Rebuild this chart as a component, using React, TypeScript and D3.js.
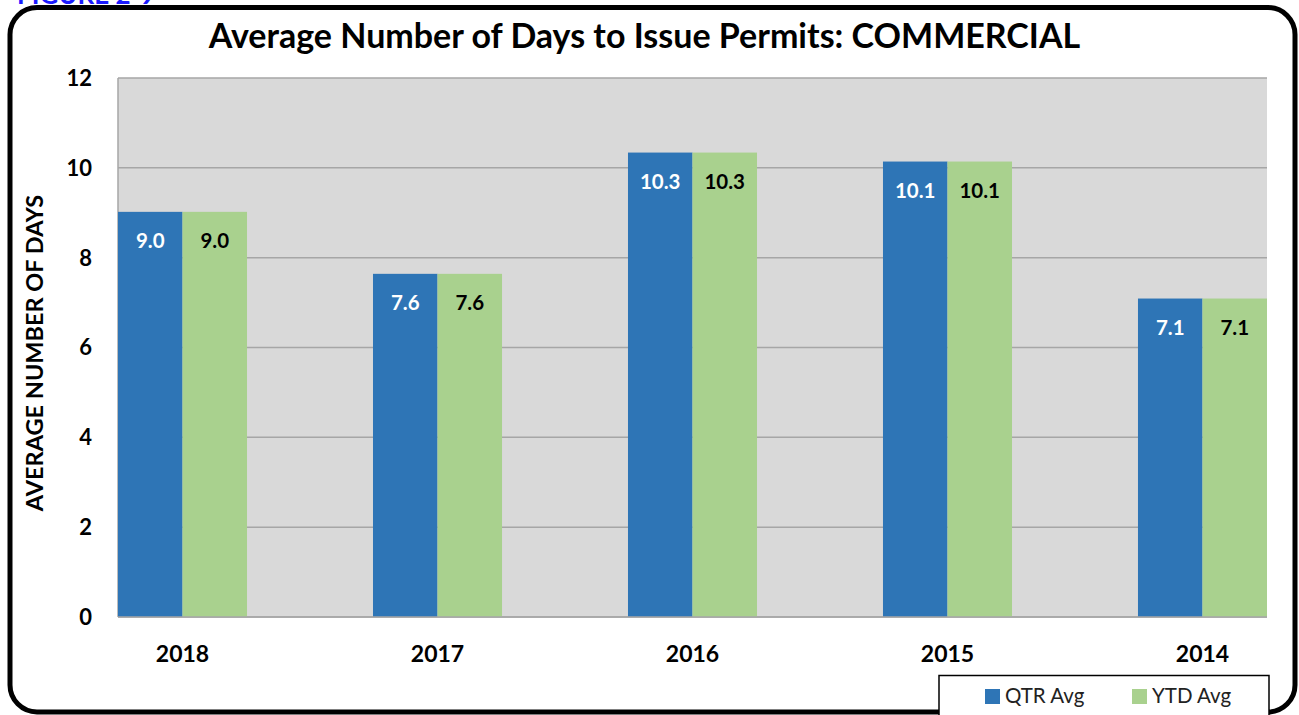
import React from "react"
import * as d3 from "d3";

// chart data
const years = ["2018", "2017", "2016", "2015", "2014"];
const qtrAvg = [9.02, 7.64, 10.34, 10.14, 7.09];
const ytdAvg = [9.02, 7.64, 10.34, 10.14, 7.09];
const seriesNames = ["QTR Avg", "YTD Avg"];
const yTicks = [0, 2, 4, 6, 8, 10, 12];

const colors = ["#2E75B6", "#A9D18E"];
const labelColors = ["#ffffff", "#000000"];

const W = 1299, H = 715;
var plot = {left: 118, right: 1267, top: 78, bottom: 617};
const FONT = "Lato, 'Noto Sans', sans-serif";

export default class App extends React.Component {

    private _svg: SVGSVGElement | null = null;

    componentDidMount() {
        this.redraw();
    }

    render() {
        return (
            <svg
                ref={node => { this._svg = node; }}
                width={W}
                height={H}
                style={{position: "absolute", left: 0, top: 0, background: "#fff"}}
            ></svg>
        );
    }

    redraw() {
        if (this._svg == null) return;
        var svg = d3.select(this._svg);
        svg.selectAll("*").remove();
        svg.style("font-family", FONT);

        // figure caption, mostly cut off at top (as in the source)
        svg.append("text")
            .attr("x", 17).attr("y", 4)
            .attr("font-size", 26).attr("font-weight", "bold")
            .attr("fill", "#1a1aff")
            .text("FIGURE 2-9");

        // rounded frame
        svg.append("rect")
            .attr("x", 10).attr("y", 7.5)
            .attr("width", 1285).attr("height", 704.5)
            .attr("rx", 27).attr("ry", 27)
            .attr("fill", "none")
            .attr("stroke", "#000")
            .attr("stroke-width", 5);

        // title
        svg.append("text")
            .attr("x", 644.5).attr("y", 48)
            .attr("text-anchor", "middle")
            .attr("font-size", 34).attr("font-weight", "bold")
            .text("Average Number of Days to Issue Permits: COMMERCIAL");

        var y = d3.scaleLinear()
            .domain([0, 12])
            .range([plot.bottom, plot.top]);

        var x0 = d3.scaleBand()
            .domain(years)
            .range([plot.left, plot.right])
            .paddingInner(0.494)
            .paddingOuter(0);

        var x1 = d3.scaleBand()
            .domain(seriesNames)
            .range([0, x0.bandwidth()]);

        // plot background
        svg.append("rect")
            .attr("x", plot.left).attr("y", plot.top)
            .attr("width", plot.right - plot.left)
            .attr("height", plot.bottom - plot.top)
            .attr("fill", "#D9D9D9");

        // gridlines
        svg.append("g")
            .selectAll("line")
            .data(yTicks)
            .enter()
            .append("line")
            .attr("x1", plot.left).attr("x2", plot.right)
            .attr("y1", d => y(d)).attr("y2", d => y(d))
            .attr("stroke", "#A6A6A6")
            .attr("stroke-width", 1.5);

        // left axis line
        svg.append("line")
            .attr("x1", plot.left).attr("x2", plot.left)
            .attr("y1", plot.top).attr("y2", plot.bottom)
            .attr("stroke", "#A6A6A6")
            .attr("stroke-width", 1.5);

        // y tick labels
        svg.append("g")
            .selectAll("text")
            .data(yTicks)
            .enter()
            .append("text")
            .attr("x", 92)
            .attr("y", d => y(d))
            .attr("dy", "0.36em")
            .attr("text-anchor", "end")
            .attr("font-size", 22).attr("font-weight", "bold")
            .text(d => String(d));

        // y axis title
        svg.append("text")
            .attr("transform", "translate(42.5,353)rotate(-90)")
            .attr("text-anchor", "middle")
            .attr("font-size", 23.5).attr("font-weight", "bold")
            .text("AVERAGE NUMBER OF DAYS");

        const rows = years.map((yr, i) => ({year: yr, values: [qtrAvg[i], ytdAvg[i]]}));

        var groups = svg.append("g")
            .selectAll("g")
            .data(rows)
            .enter()
            .append("g")
            .attr("transform", d => "translate(" + (x0(d.year) || 0) + ",0)");

        var cells = groups.selectAll("g")
            .data(d => d.values.map((v, k) => ({name: seriesNames[k], k: k, v: v})))
            .enter()
            .append("g");

        cells.append("rect")
            .attr("x", d => x1(d.name) || 0)
            .attr("y", d => y(d.v))
            .attr("width", x1.bandwidth())
            .attr("height", d => y(0) - y(d.v))
            .attr("fill", d => colors[d.k]);

        cells.append("text")
            .attr("x", d => (x1(d.name) || 0) + x1.bandwidth() / 2)
            .attr("y", d => y(d.v) + 36)
            .attr("text-anchor", "middle")
            .attr("font-size", 20.5).attr("font-weight", "bold")
            .attr("fill", d => labelColors[d.k])
            .text(d => d.v.toFixed(1));

        // baseline
        svg.append("line")
            .attr("x1", plot.left).attr("x2", plot.right)
            .attr("y1", plot.bottom).attr("y2", plot.bottom)
            .attr("stroke", "#A6A6A6")
            .attr("stroke-width", 1.5);

        // x labels
        svg.append("g")
            .selectAll("text")
            .data(years)
            .enter()
            .append("text")
            .attr("x", d => (x0(d) || 0) + x0.bandwidth() / 2)
            .attr("y", 662)
            .attr("text-anchor", "middle")
            .attr("font-size", 23).attr("font-weight", "bold")
            .text(d => d);

        // legend
        var legend = svg.append("g");
        legend.append("rect")
            .attr("x", 939).attr("y", 675.5)
            .attr("width", 330).attr("height", 60)
            .attr("fill", "#fff")
            .attr("stroke", "#000")
            .attr("stroke-width", 1.5);

        const legendX = [985, 1132];
        seriesNames.forEach((name, k) => {
            legend.append("rect")
                .attr("x", legendX[k]).attr("y", 689)
                .attr("width", 15).attr("height", 15)
                .attr("fill", colors[k]);
            legend.append("text")
                .attr("x", legendX[k] + 20).attr("y", 703)
                .attr("font-size", 20.5)
                .attr("fill", "#222")
                .text(name);
        });
    }
}
